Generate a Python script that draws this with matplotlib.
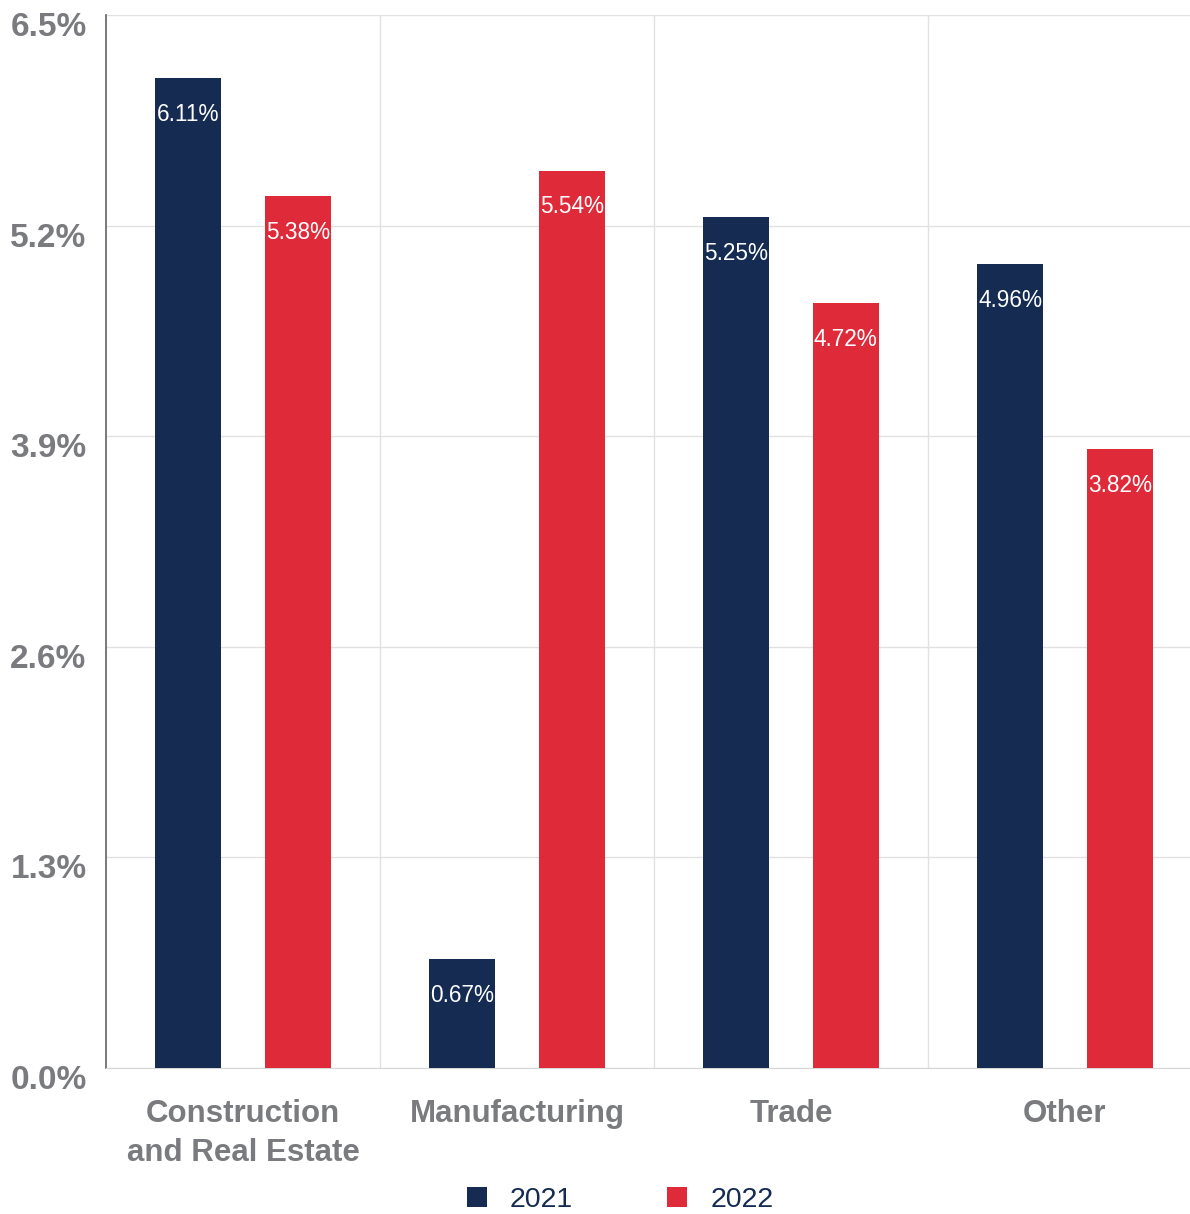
import matplotlib.pyplot as plt
import numpy as np
from matplotlib.transforms import ScaledTranslation

plt.rcParams['font.family'] = ['Liberation Sans', 'DejaVu Sans']

categories = ['Construction\nand Real Estate', 'Manufacturing', 'Trade', 'Other']
values_2021 = [6.11, 0.67, 5.25, 4.96]
values_2022 = [5.38, 5.54, 4.72, 3.82]
yticks = [0.0, 1.3, 2.6, 3.9, 5.2, 6.5]

navy = '#152b52'
red = '#df2a3a'
grey = '#7a7b7e'

fig = plt.figure(figsize=(11.9, 12.14), dpi=100)
ax = fig.add_axes([106 / 1190, 146 / 1214, 1096 / 1190, 1053 / 1214])

x = np.arange(len(categories))
w = 0.24
b1 = ax.bar(x - 0.2, values_2021, w, color=navy, label='2021', zorder=3)
b2 = ax.bar(x + 0.2, values_2022, w, color=red, label='2022', zorder=3)

# value labels inside the top of each bar
for bars, vals in [(b1, values_2021), (b2, values_2022)]:
    for rect, v in zip(bars, vals):
        ax.annotate(f'{v:.2f}%', (rect.get_x() + rect.get_width() / 2, v),
                    xytext=(0, -26), textcoords='offset points',
                    ha='center', va='center', color='white', fontsize=16.3, zorder=4)

ax.set_xlim(-0.5, 3.5)
ax.set_ylim(0, 6.5)
ax.set_yticks(yticks)
ax.set_yticklabels([f'{t:.1f}%' for t in yticks])
ax.set_xticks(x)
ax.set_xticklabels(categories, linespacing=1.4)

ax.tick_params(axis='y', length=0, pad=14, labelsize=24, labelcolor=grey)
ax.tick_params(axis='x', length=0, pad=22, labelsize=22.5, labelcolor=grey)
for lab in ax.get_yticklabels() + ax.get_xticklabels():
    lab.set_fontweight('bold')
for lab in ax.get_yticklabels():
    lab.set_transform(lab.get_transform() + ScaledTranslation(0, -0.09, fig.dpi_scale_trans))

ax.grid(axis='y', color='#e1e1e1', linewidth=1, zorder=0)
for sep in [0.5, 1.5, 2.5]:
    ax.axvline(sep, color='#e1e1e1', linewidth=1, zorder=0)

for side in ['top', 'right']:
    ax.spines[side].set_visible(False)
ax.spines['bottom'].set_color('#d6d6d6')
ax.spines['left'].set_color('#6e6e6e')
ax.spines['left'].set_linewidth(1.3)

fig.legend(handles=[b1, b2], labels=['2021', '2022'], loc='center',
           bbox_to_anchor=(620 / 1190, 1 - 1200 / 1214), ncol=2, frameon=False,
           fontsize=20.5, labelcolor=navy, handlelength=0.72, handleheight=0.72,
           handletextpad=0.8, columnspacing=3.3)

fig.savefig('out.png', dpi=100)
